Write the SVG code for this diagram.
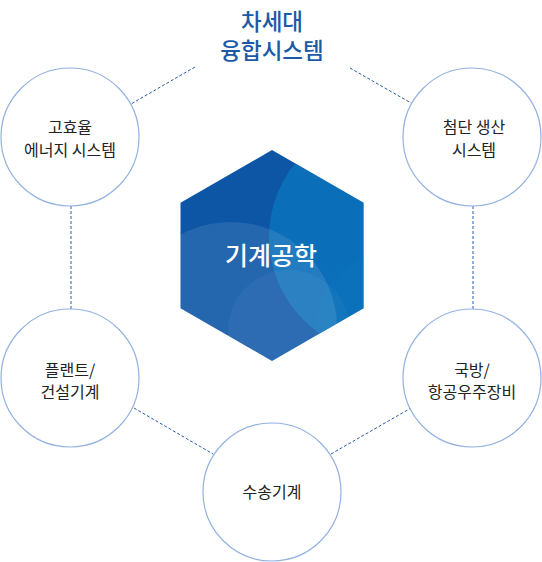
<svg xmlns="http://www.w3.org/2000/svg" width="542" height="562" viewBox="0 0 542 562">
  <style>
    .node circle { fill: #ffffff; stroke: #93b2e0; stroke-width: 1.2; }
    .lbl { font-family: "Noto Sans CJK KR", "Noto Sans", sans-serif; font-size: 16px; fill: #222222; text-anchor: middle; }
    .title { font-family: "Noto Sans CJK KR", "Noto Sans", sans-serif; font-size: 22.5px; font-weight: 500; fill: #1a5aa6; text-anchor: middle; }
    .conn line { stroke: #2a5ca8; stroke-width: 1; stroke-dasharray: 3 2; fill: none; }
  </style>
  <defs>
    <clipPath id="hexclip">
      <polygon points="272,150 363.5,202.75 363.5,308.25 272,361 180.5,308.25 180.5,202.75"/>
    </clipPath>
  </defs>

  <g id="connectors" class="conn">
    <line x1="195" y1="67" x2="131" y2="104"/>
    <line x1="350" y1="68" x2="411" y2="103"/>
    <line x1="71" y1="206" x2="71" y2="309"/>
    <line x1="473" y1="206" x2="473" y2="309"/>
    <line x1="134" y1="408" x2="213" y2="454"/>
    <line x1="331" y1="454" x2="411" y2="408"/>
  </g>

  <g id="title">
    <text class="title" x="272" y="30">차세대</text>
    <text class="title" x="272" y="59">융합시스템</text>
  </g>

  <g id="center-hex">
    <g clip-path="url(#hexclip)">
      <rect x="180" y="150" width="185" height="212" fill="#0d56a6"/>
      <circle cx="386" cy="237" r="117" fill="#0a7fc4" fill-opacity="0.6"/>
      <circle cx="395" cy="330" r="80" fill="#0a8acc" fill-opacity="0.12"/>
      <circle cx="231" cy="328" r="106" fill="#ffffff" fill-opacity="0.1"/>
      <circle cx="289" cy="331" r="61" fill="#ffffff" fill-opacity="0.04"/>
    </g>
    <text x="271" y="265" font-family="'Noto Sans CJK KR', 'Noto Sans', sans-serif" font-size="25" font-weight="500" fill="#ffffff" text-anchor="middle">기계공학</text>
  </g>

  <g id="node-energy" class="node">
    <circle cx="70" cy="137" r="69"/>
    <text class="lbl" x="70" y="133">고효율</text>
    <text class="lbl" x="70" y="156">에너지 시스템</text>
  </g>

  <g id="node-production" class="node">
    <circle cx="472" cy="137" r="69"/>
    <text class="lbl" x="474" y="133">첨단 생산</text>
    <text class="lbl" x="474" y="156">시스템</text>
  </g>

  <g id="node-plant" class="node">
    <circle cx="70" cy="378" r="69"/>
    <text class="lbl" x="70" y="376">플랜트/</text>
    <text class="lbl" x="70" y="398">건설기계</text>
  </g>

  <g id="node-defense" class="node">
    <circle cx="472" cy="378" r="69"/>
    <text class="lbl" x="472" y="376">국방/</text>
    <text class="lbl" x="472" y="398">항공우주장비</text>
  </g>

  <g id="node-transport" class="node">
    <circle cx="272" cy="492" r="69"/>
    <text class="lbl" x="272" y="498">수송기계</text>
  </g>
</svg>
